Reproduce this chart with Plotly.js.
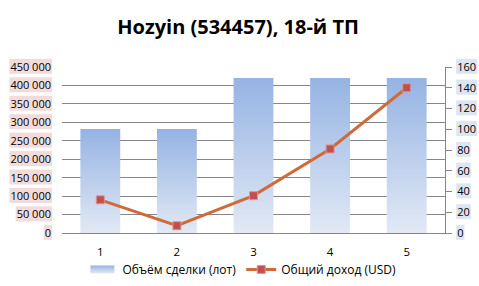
<!DOCTYPE html>
<html><head><meta charset="utf-8">
<script src="https://cdn.plot.ly/plotly-3.0.1.min.js"></script>
<style>html,body{margin:0;padding:0;background:#fff}#chart{width:479px;height:286px}</style>
</head><body><div id="chart"></div>
<script>
const categories = ['1', '2', '3', '4', '5'];
const volumeLots = [282000, 282000, 420000, 420000, 420000];
const incomeUsd = [32, 7, 36, 81, 140];
const seriesNames = ['Объём сделки (лот)', 'Общий доход (USD)'];
const chartTitle = 'Hozyin (534457), 18-й ТП';

const FONT = 'Open Sans, Liberation Sans, sans-serif';
const data = [
  {type: 'bar', x: categories, y: volumeLots, name: seriesNames[0], yaxis: 'y',
   marker: {color: '#b4c7ea', line: {width: 0}}, width: 0.52},
  {type: 'scatter', mode: 'lines+markers', x: categories, y: incomeUsd, name: seriesNames[1], yaxis: 'y2',
   line: {color: '#cf6a3a', width: 3},
   marker: {symbol: 'square', size: 8, color: '#c0504d', line: {color: '#d99694', width: 1}}}
];
const layout = {
  width: 479, height: 286,
  margin: {l: 62, r: 34, t: 67, b: 53},
  paper_bgcolor: '#fff', plot_bgcolor: '#fff',
  separators: '. ',
  font: {family: FONT, size: 11, color: '#000'},
  title: {text: '<b>' + chartTitle + '</b>', font: {family: FONT, size: 20, color: '#000'}, x: 0.497, xanchor: 'center', y: 0.905, yanchor: 'middle'},
  showlegend: true,
  legend: {orientation: 'h', xref: 'container', x: 0.505, xanchor: 'center', yref: 'container', y: 0.058, yanchor: 'middle',
           bgcolor: 'rgba(0,0,0,0)', font: {family: FONT, size: 12}, traceorder: 'normal', itemwidth: 30},
  xaxis: {type: 'category', showgrid: false, showline: true, linecolor: '#868686', linewidth: 1,
          ticks: '', ticklabelstandoff: 8, tickfont: {family: FONT, size: 11.5}, fixedrange: true},
  yaxis: {range: [0, 450000], dtick: 50000, tickformat: ',d', showgrid: true, gridcolor: '#868686', gridwidth: 1,
          zeroline: false, showline: false, ticks: '', ticklabelstandoff: 10, tickfont: {family: FONT, size: 11}},
  yaxis2: {range: [0, 160], dtick: 20, overlaying: 'y', side: 'right', showgrid: false, zeroline: false,
           showline: true, linecolor: '#868686', linewidth: 1, ticks: 'outside', ticklen: 6, tickcolor: '#868686',
           ticklabelstandoff: 3, tickfont: {family: FONT, size: 11}}
};
Plotly.newPlot('chart', data, layout, {staticPlot: true, displayModeBar: false}).then(gd => {
  const NS = 'http://www.w3.org/2000/svg';
  const svg = gd.querySelector('.main-svg');
  const defs = document.createElementNS(NS, 'defs');
  defs.innerHTML = '<linearGradient id="barGrad" x1="0" y1="0" x2="0" y2="1">' +
    '<stop offset="0" stop-color="#95b3e3"/><stop offset="1" stop-color="#e2e9f5"/></linearGradient>';
  svg.insertBefore(defs, svg.firstChild);
  gd.querySelectorAll('.bars .point path').forEach(p => { p.style.fill = 'url(#barGrad)'; });
  gd.querySelectorAll('.legend .traces').forEach((t, i) => {
    const bar = t.querySelector('.legendbar path, .legendpoints path');
    if (i === 0 && bar) { bar.setAttribute('d', 'M-12,4H12V-4H-12Z'); bar.style.fill = 'url(#barGrad)'; bar.style.stroke = 'none'; }
  });
  function addBg(sel, color) {
    gd.querySelectorAll(sel).forEach(tx => {
      const b = tx.getBBox();
      const r = document.createElementNS(NS, 'rect');
      r.setAttribute('x', b.x - 1); r.setAttribute('y', b.y);
      r.setAttribute('width', b.width + 2); r.setAttribute('height', b.height);
      r.setAttribute('fill', color);
      const tr = tx.getAttribute('transform'); if (tr) r.setAttribute('transform', tr);
      tx.parentNode.insertBefore(r, tx);
    });
  }
  addBg('.ytick text', '#f2dcdb');
  addBg('.y2tick text', '#dce6f2');
});
</script></body></html>
